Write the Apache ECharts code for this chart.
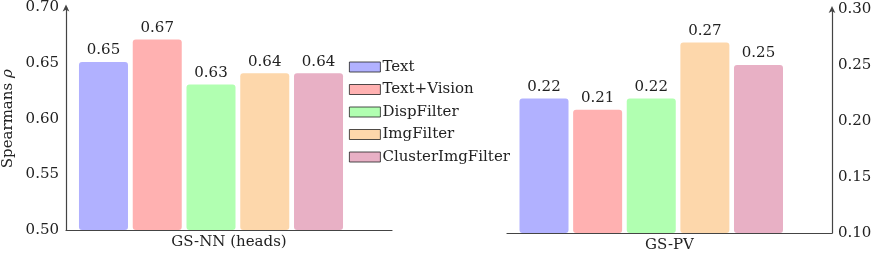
<!DOCTYPE html>
<html><head><meta charset="utf-8">
<script src="https://cdn.jsdelivr.net/npm/echarts@6/dist/echarts.min.js"></script>
<style>html,body{margin:0;padding:0;background:#fff}#c{width:877px;height:256px}</style>
</head><body><div id="c"></div>
<script>
var methods = ['Text', 'Text+Vision', 'DispFilter', 'ImgFilter', 'ClusterImgFilter'];
var colors = ['#b1b1ff', '#ffb1b1', '#b1ffb1', '#fdd7ab', '#e8b0c5'];
var groupLeft = 'GS-NN (heads)';
var groupRight = 'GS-PV';
var gsnn = [0.65, 0.67, 0.63, 0.64, 0.64];
var gspv = [0.22, 0.21, 0.22, 0.27, 0.25];
var leftTicks = {min: 0.5, max: 0.7, interval: 0.05};
var rightTicks = {min: 0.1, max: 0.3, interval: 0.05};

var FONT = 'DejaVu Serif';
var FS = 15;
var AX = '#444';
var TXT = '#222';

var chart = echarts.init(document.getElementById('c'), null, {renderer: 'canvas'});

function barSeries(vals, xi, yi) {
  return methods.map(function (m, i) {
    return {
      name: m, type: 'bar', xAxisIndex: xi, yAxisIndex: yi,
      barWidth: 49, barGap: '-100%',
      itemStyle: {color: colors[i], borderRadius: 3},
      label: {show: true, position: 'top', distance: 4, fontFamily: FONT, fontSize: FS, color: TXT,
        formatter: function (p) { return Number(p.value).toFixed(2); }},
      emphasis: {disabled: true},
      data: methods.map(function (_, j) { return j === i ? vals[i] : '-'; })
    };
  });
}

var option = {
  animation: false,
  grid: [
    {left: 66, right: 485, top: 6, bottom: 26},
    {left: 76.6, right: 531.6, top: 6, bottom: 26},
    {left: 507, right: 45, top: 9, bottom: 23},
    {left: 517.2, right: 91.7, top: 9, bottom: 23}
  ],
  legend: {
    orient: 'vertical', left: 349, top: 59, padding: 0,
    itemWidth: 31, itemHeight: 10, itemGap: 6.5,
    icon: 'rect',
    itemStyle: {borderColor: '#222', borderWidth: 0.8, borderRadius: 0},
    textStyle: {fontFamily: FONT, fontSize: FS, color: TXT, lineHeight: 16, padding: [0, 0, 0, -3]},
    data: methods
  },
  xAxis: [
    {gridIndex: 0, type: 'category', data: [groupLeft],
      axisLine: {lineStyle: {color: AX, width: 1.2}}, axisTick: {show: false},
      axisLabel: {margin: 5, fontFamily: FONT, fontSize: FS, color: TXT}},
    {gridIndex: 1, type: 'category', data: methods, show: false},
    {gridIndex: 2, type: 'category', data: [groupRight],
      axisLine: {lineStyle: {color: AX, width: 1.2}}, axisTick: {show: false},
      axisLabel: {margin: 5, fontFamily: FONT, fontSize: FS, color: TXT}},
    {gridIndex: 3, type: 'category', data: methods, show: false}
  ],
  yAxis: [
    {gridIndex: 0, type: 'value', min: leftTicks.min, max: leftTicks.max, interval: leftTicks.interval,
      splitLine: {show: false}, axisTick: {show: false},
      axisLine: {show: true, lineStyle: {color: AX, width: 1.2}, symbol: ['none', 'arrow'], symbolSize: [5, 7], symbolOffset: [0, 3]},
      axisLabel: {margin: 7, fontFamily: FONT, fontSize: FS, color: TXT, formatter: function (v) { return v.toFixed(2); }},
      name: 'Spearmans {i|ρ}', nameLocation: 'middle', nameGap: 50,
      nameTextStyle: {fontFamily: FONT, fontSize: FS, color: TXT,
        rich: {i: {fontFamily: FONT, fontSize: FS, fontStyle: 'italic', color: TXT}}}},
    {gridIndex: 1, type: 'value', min: leftTicks.min, max: leftTicks.max, show: false, splitLine: {show: false}},
    {gridIndex: 2, type: 'value', position: 'right', min: rightTicks.min, max: rightTicks.max, interval: rightTicks.interval,
      splitLine: {show: false}, axisTick: {show: false},
      axisLine: {show: true, lineStyle: {color: AX, width: 1.2}, symbol: ['none', 'arrow'], symbolSize: [5, 7], symbolOffset: [0, 3]},
      axisLabel: {margin: 6, fontFamily: FONT, fontSize: FS, color: TXT, formatter: function (v) { return v.toFixed(2); }}},
    {gridIndex: 3, type: 'value', min: rightTicks.min, max: rightTicks.max, show: false, splitLine: {show: false}}
  ],
  series: barSeries(gsnn, 1, 1).concat(barSeries(gspv, 3, 3))
};
chart.setOption(option);
</script>
</body></html>
